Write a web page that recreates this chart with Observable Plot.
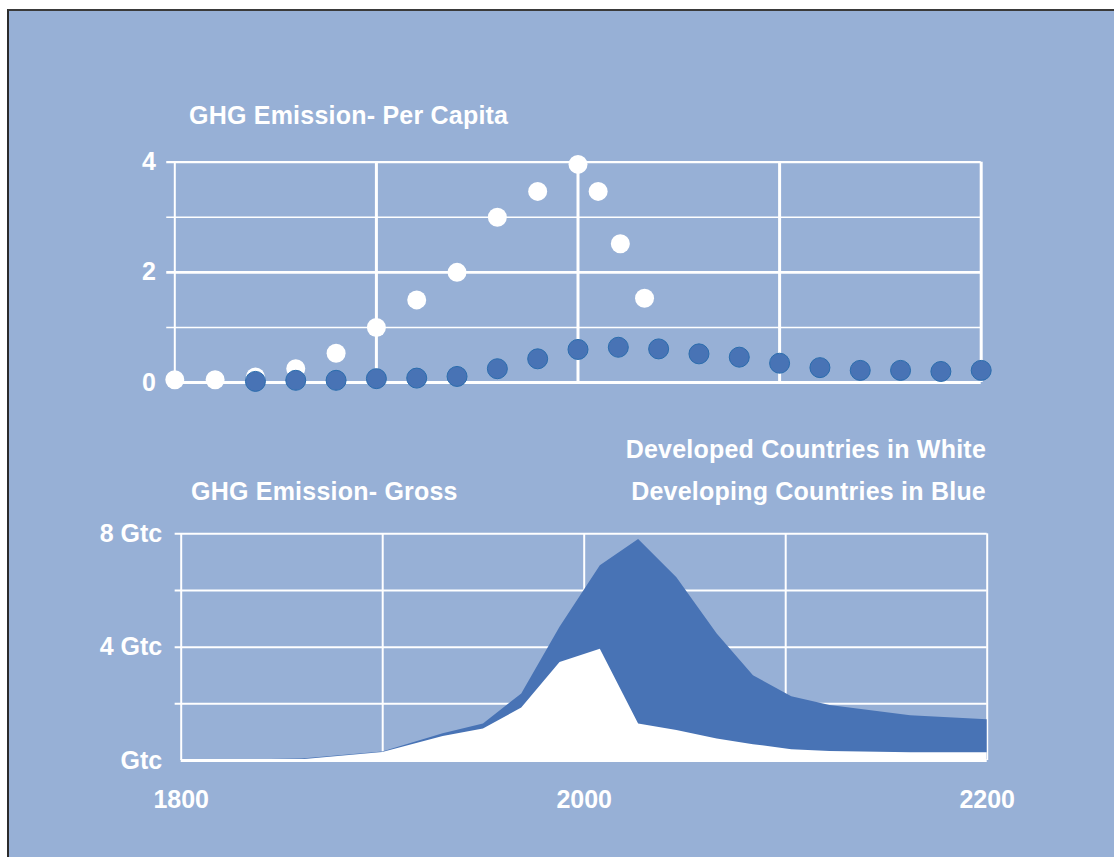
<!DOCTYPE html>
<html>
<head>
<meta charset="utf-8">
<script src="https://cdn.jsdelivr.net/npm/d3@7"></script>
<script src="https://cdn.jsdelivr.net/npm/@observablehq/plot@0.6"></script>
<style>
  html, body { margin: 0; padding: 0; background: #ffffff; }
  #page { position: relative; width: 1114px; height: 857px; overflow: hidden; background: #ffffff; }
  #panel { position: absolute; left: 7px; top: 9px; right: 0; bottom: 0; background: #97b0d6;
           border-left: 2px solid #2b2b2b; border-top: 2px solid #3a3a3a; }
  .lbl { position: absolute; color: #ffffff; font-family: "Liberation Sans", Arial, sans-serif;
         font-weight: bold; font-size: 25px; line-height: 25px; white-space: nowrap; letter-spacing: 0.22px; }
  .chart { position: absolute; left: 0; }
</style>
</head>
<body>
<div id="page">
  <div id="panel"></div>
  <div class="lbl" style="left:189px; top:103px;">GHG Emission- Per Capita</div>
  <div class="lbl" style="left:191px; top:479px;">GHG Emission- Gross</div>
  <div class="lbl" style="left:500px; width:486px; text-align:right; top:437px;">Developed Countries in White</div>
  <div class="lbl" style="left:500px; width:486px; text-align:right; top:479px;">Developing Countries in Blue</div>
  <div id="chartTop" class="chart" style="top:130px;"></div>
  <div id="chartBottom" class="chart" style="top:510px;"></div>
</div>
<script>
// ---- Per capita (top panel) ----
const perCapitaDevelopedYears = [1800, 1820, 1840, 1860, 1880, 1900, 1920, 1940, 1960, 1980, 2000, 2010, 2021, 2033];
const perCapitaDeveloped      = [0.05, 0.05, 0.10, 0.25, 0.53, 1.00, 1.50, 2.00, 3.00, 3.47, 3.96, 3.47, 2.52, 1.53];
const perCapitaDevelopingYears = [1840, 1860, 1880, 1900, 1920, 1940, 1960, 1980, 2000, 2020, 2040, 2060, 2080, 2100, 2120, 2140, 2160, 2180, 2200];
const perCapitaDeveloping      = [0.02, 0.04, 0.04, 0.07, 0.08, 0.11, 0.25, 0.43, 0.60, 0.64, 0.61, 0.52, 0.46, 0.35, 0.27, 0.22, 0.22, 0.20, 0.22];
const perCapitaTicks = [0, 2, 4];

// ---- Gross (bottom panel) ----
const grossYears     = [1800, 1860, 1900, 1930, 1950, 1969, 1988, 2008, 2027, 2046, 2066, 2084, 2103, 2122, 2162, 2200];
const developedGross = [0, 0.03, 0.28, 0.85, 1.11, 1.85, 3.46, 3.93, 1.29, 1.06, 0.76, 0.56, 0.38, 0.32, 0.27, 0.27];
const totalGross     = [0, 0.05, 0.30, 0.94, 1.29, 2.35, 4.70, 6.87, 7.80, 6.45, 4.46, 2.99, 2.25, 1.94, 1.58, 1.44];
const grossTicks = [0, 4, 8];
const yearTicks = [1800, 2000, 2200];

const WHITE = "#ffffff";
const BLUE = "#4873b5";
const BLUE_EDGE = "#2a6cad";
const baseStyle = {
  background: "transparent", color: WHITE, overflow: "visible",
  fontFamily: "'Liberation Sans', Arial, sans-serif", fontSize: "25px", fontWeight: "bold"
};

const devPts = perCapitaDevelopedYears.map((x, i) => ({x, y: perCapitaDeveloped[i]}));
const dingPts = perCapitaDevelopingYears.map((x, i) => ({x, y: perCapitaDeveloping[i]}));

const perCapitaPlot = Plot.plot({
  width: 1114, height: 280,
  marginLeft: 174.3, marginRight: 133.3, marginTop: 31.7, marginBottom: 28,
  style: baseStyle,
  x: {domain: [1800, 2200], axis: null},
  y: {domain: [0, 4]},
  marks: [
    Plot.ruleY([1, 3], {stroke: WHITE, strokeWidth: 1.6, x1: 1796, x2: 2200}),
    Plot.ruleY([2], {stroke: WHITE, strokeWidth: 2.6, x1: 1796, x2: 2200}),
    Plot.ruleY([4], {stroke: WHITE, strokeWidth: 2.2, x1: 1796, x2: 2200}),
    Plot.ruleX([1800], {stroke: WHITE, strokeWidth: 2, y1: 0, y2: 4}),
    Plot.ruleX([1900, 2000, 2100, 2200], {stroke: WHITE, strokeWidth: 3, y1: 0, y2: 4}),
    Plot.ruleY([0], {stroke: WHITE, strokeWidth: 3, x1: 1800, x2: 2200}),
    Plot.axisY({ticks: perCapitaTicks, tickSize: 0, tickPadding: 19, tickFormat: d => `${d}`, label: null}),
    Plot.dot(devPts, {x: "x", y: "y", r: 9.5, fill: WHITE, stroke: "none"}),
    Plot.dot(dingPts, {x: "x", y: "y", r: 10, fill: BLUE, stroke: BLUE_EDGE, strokeWidth: 1})
  ]
});
document.getElementById("chartTop").appendChild(perCapitaPlot);

const gross = grossYears.map((x, i) => ({x, dev: developedGross[i], total: totalGross[i]}));

const grossPlot = Plot.plot({
  width: 1114, height: 310,
  marginLeft: 180.7, marginRight: 127.3, marginTop: 23.3, marginBottom: 60,
  style: baseStyle,
  x: {domain: [1800, 2200]},
  y: {domain: [0, 8]},
  marks: [
    Plot.ruleY([2, 4, 6, 8], {stroke: WHITE, strokeWidth: 2, x1: 1797, x2: 2200}),
    Plot.ruleX([1800, 1900, 2000, 2100, 2200], {stroke: WHITE, strokeWidth: 2, y1: 0, y2: 8}),
    Plot.areaY(gross, {x: "x", y1: 0, y2: "total", fill: BLUE}),
    Plot.areaY(gross, {x: "x", y1: 0, y2: "dev", fill: WHITE}),
    Plot.ruleY([0], {stroke: WHITE, strokeWidth: 3, x1: 1800, x2: 2200}),
    Plot.axisY({ticks: grossTicks, tickSize: 0, tickPadding: 19, tickFormat: d => d === 0 ? "Gtc" : `${d} Gtc`, label: null}),
    Plot.axisX({ticks: yearTicks, tickSize: 0, tickPadding: 30, tickFormat: d => `${d}`, label: null})
  ]
});
document.getElementById("chartBottom").appendChild(grossPlot);
</script>
</body>
</html>
